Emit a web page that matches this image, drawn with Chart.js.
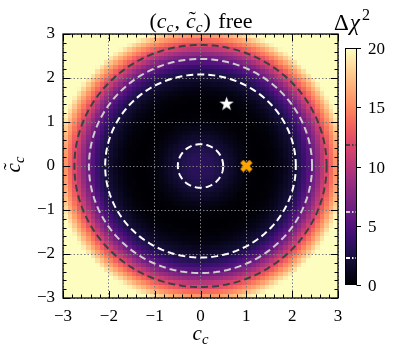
<!DOCTYPE html>
<html>
<head>
<meta charset="utf-8">
<script src="https://cdn.jsdelivr.net/npm/chart.js@4.4.1/dist/chart.umd.min.js"></script>
<style>
  html, body { margin: 0; padding: 0; background: #fff; }
  #wrap { width: 396px; height: 355px; }
</style>
</head>
<body>
<div id="wrap"><canvas id="chi2Map" width="396" height="355"></canvas></div>
<script>
// axis ticks
const xTicks = [-3, -2, -1, 0, 1, 2, 3];
const yTicks = [-3, -2, -1, 0, 1, 2, 3];
const barTicks = [0, 5, 10, 15, 20];

// delta chi^2 as a function of r = sqrt(c_c^2 + ct_c^2)
const profileR = [0.0, 0.1, 0.2, 0.3, 0.4, 0.5, 0.6, 0.7, 0.8, 0.9,
                  1.0, 1.1, 1.2, 1.3, 1.4, 1.5, 1.6, 1.7, 1.8, 1.9,
                  2.0, 2.1, 2.2, 2.3, 2.4, 2.5, 2.6, 2.7, 2.8, 2.9,
                  3.0, 3.1, 3.2, 3.3, 3.4, 3.5, 3.6, 3.7, 3.8, 3.9,
                  4.0, 4.1, 4.2, 4.3];
const profileChi2 = [3.30, 3.26, 3.14, 2.94, 2.66, 2.28, 1.90, 1.48, 1.07, 0.70,
                     0.40, 0.18, 0.05, 0.00, 0.02, 0.10, 0.26, 0.52, 0.90, 1.38,
                     1.90, 2.40, 3.35, 4.45, 5.70, 7.10, 8.90, 10.90, 12.70, 14.60,
                     16.50, 18.40, 20.20, 22.00, 23.90, 25.80, 27.70, 29.60, 31.50, 33.40,
                     35.30, 37.20, 39.10, 41.00];

// contour levels (1, 2, 3 sigma for 2 parameters)
const levels = [2.30, 6.18, 11.83];
const levelColors = ["#ffffff", "#cdcdcd", "#3f3f3f"];

// markers
const bestFit = [{ x: 0.57, y: 1.43 }];
const smPoint = [{ x: 1.0, y: 0.0 }];

const cellStep = 0.1;
const zMax = 20;

const serif = "'Liberation Serif', 'DejaVu Serif', serif";

// magma colormap stops
const magma = ["#000004", "#07061c", "#140e36", "#251255", "#3b0f70", "#51127c",
  "#641a80", "#782281", "#8c2981", "#a1307e", "#b73779", "#cc4071", "#de4968",
  "#ed5a5f", "#f7705c", "#fc8961", "#fe9f6d", "#feb77e", "#fecf92", "#fde7a9", "#fcfdbf"];
const magmaRGB = magma.map(h => [1, 3, 5].map(i => parseInt(h.substr(i, 2), 16)));

function cmap(v) {
  let t = Math.max(0, Math.min(1, v / zMax)) * (magmaRGB.length - 1);
  const i = Math.min(Math.floor(t), magmaRGB.length - 2);
  const f = t - i;
  const a = magmaRGB[i], b = magmaRGB[i + 1];
  return "rgb(" + a.map((c, k) => Math.round(c + (b[k] - c) * f)).join(",") + ")";
}

function chi2At(r) {
  for (let i = 1; i < profileR.length; i++) {
    if (r <= profileR[i]) {
      const f = (r - profileR[i - 1]) / (profileR[i] - profileR[i - 1]);
      return profileChi2[i - 1] + f * (profileChi2[i] - profileChi2[i - 1]);
    }
  }
  return profileChi2[profileChi2.length - 1];
}

function crossings(level) {
  const out = [];
  for (let i = 1; i < profileR.length; i++) {
    const a = profileChi2[i - 1], b = profileChi2[i];
    if ((a - level) * (b - level) < 0) {
      out.push(profileR[i - 1] + (level - a) / (b - a) * (profileR[i] - profileR[i - 1]));
    }
  }
  return out;
}

function ring(r) {
  const pts = [];
  for (let k = 0; k <= 180; k++) {
    const a = k / 180 * 2 * Math.PI;
    pts.push({ x: r * Math.cos(a), y: r * Math.sin(a) });
  }
  return pts;
}

function starImage(size, color) {
  const c = document.createElement("canvas");
  c.width = c.height = size;
  const g = c.getContext("2d");
  const R = size / 2, r = R * 0.4;
  g.beginPath();
  for (let i = 0; i < 10; i++) {
    const a = -Math.PI / 2 + i * Math.PI / 5;
    const rad = i % 2 ? r : R;
    g.lineTo(R + rad * Math.cos(a), R + rad * Math.sin(a) + size * 0.06);
  }
  g.closePath();
  g.fillStyle = color;
  g.fill();
  return c;
}

function xImage(size, color) {
  const c = document.createElement("canvas");
  c.width = c.height = size;
  const g = c.getContext("2d");
  const L = size * 0.5, w = size * 0.17;
  g.translate(size / 2, size / 2);
  g.rotate(Math.PI / 4);
  g.fillStyle = color;
  g.fillRect(-L, -w, 2 * L, 2 * w);
  g.fillRect(-w, -L, 2 * w, 2 * L);
  return c;
}

// text with italics / sub / superscripts
function fontFor(p, size) {
  const s = (p.sub || p.sup) ? size * 0.7 : size;
  return (p.it ? "italic " : "") + s + "px " + serif;
}
function drawMath(ctx, parts, x, y, size, align) {
  ctx.save();
  ctx.textBaseline = "alphabetic";
  ctx.textAlign = "left";
  let total = 0;
  const widths = parts.map(p => {
    ctx.font = fontFor(p, size);
    const w = ctx.measureText(p.t).width + (p.gap || 0);
    total += w;
    return w;
  });
  let cx = align === "center" ? x - total / 2 : x;
  parts.forEach((p, i) => {
    ctx.font = fontFor(p, size);
    const dy = p.sub ? size * 0.2 : p.sup ? -size * 0.42 : 0;
    ctx.fillText(p.t, cx + (p.pre || 0), y + dy);
    if (p.tilde) {
      ctx.font = size + "px " + serif;
      ctx.textAlign = "center";
      ctx.fillText("\u02DC", cx + widths[i] / 2 + size * 0.06, y - size * 0.08);
      ctx.textAlign = "left";
    }
    cx += widths[i];
  });
  ctx.restore();
}

const cellCentres = [];
for (let i = 0; i < Math.round(6 / cellStep); i++) cellCentres.push(-3 + cellStep * (i + 0.5));

const heatmapPlugin = {
  id: "heatmap",
  beforeDraw(chart) {
    const { ctx, chartArea } = chart;
    const xs = chart.scales.x, ys = chart.scales.y;
    const h = cellStep / 2;
    const xEdges = cellCentres.map(c => Math.round(xs.getPixelForValue(c - h)));
    xEdges.push(Math.round(xs.getPixelForValue(cellCentres[cellCentres.length - 1] + h)));
    const yEdges = cellCentres.map(c => Math.round(ys.getPixelForValue(c - h)));
    yEdges.push(Math.round(ys.getPixelForValue(cellCentres[cellCentres.length - 1] + h)));
    ctx.save();
    ctx.beginPath();
    ctx.rect(chartArea.left, chartArea.top, chartArea.right - chartArea.left, chartArea.bottom - chartArea.top);
    ctx.clip();
    cellCentres.forEach((cx, i) => {
      cellCentres.forEach((cy, j) => {
        ctx.fillStyle = cmap(chi2At(Math.hypot(cx, cy)));
        ctx.fillRect(xEdges[i], yEdges[j + 1], xEdges[i + 1] - xEdges[i], yEdges[j] - yEdges[j + 1]);
      });
    });
    ctx.restore();
  }
};

const framePlugin = {
  id: "frame",
  afterDraw(chart) {
    const { ctx, chartArea } = chart;
    const { left, right, top, bottom } = chartArea;
    const xs = chart.scales.x, ys = chart.scales.y;
    ctx.save();
    ctx.strokeStyle = "#000";
    ctx.lineWidth = 1;
    ctx.beginPath();
    for (let k = -15; k <= 15; k++) {
      const v = k / 5;
      const len = k % 5 === 0 ? 7 : 3.5;
      const px = Math.round(xs.getPixelForValue(v)) + 0.5;
      ctx.moveTo(px, bottom); ctx.lineTo(px, bottom - len);
      ctx.moveTo(px, top); ctx.lineTo(px, top + len);
      const py = Math.round(ys.getPixelForValue(v)) + 0.5;
      ctx.moveTo(left, py); ctx.lineTo(left + len, py);
      ctx.moveTo(right, py); ctx.lineTo(right - len, py);
    }
    ctx.stroke();
    ctx.lineWidth = 1.25;
    ctx.strokeRect(left, top, right - left, bottom - top);

    // colour bar
    const cbL = 345, cbR = 357, cbT = 48, cbB = 285;
    const cy = v => cbB - v / zMax * (cbB - cbT);
    for (let py = cbT; py < cbB; py++) {
      ctx.fillStyle = cmap((cbB - py - 0.5) / (cbB - cbT) * zMax);
      ctx.fillRect(cbL, py, cbR - cbL, 1);
    }
    levels.forEach((lv, i) => {
      ctx.strokeStyle = levelColors[i];
      ctx.lineWidth = 2;
      ctx.setLineDash([5, 2, 1.5, 2]);
      ctx.beginPath();
      ctx.moveTo(cbL, Math.round(cy(lv)));
      ctx.lineTo(cbR, Math.round(cy(lv)));
      ctx.stroke();
    });
    ctx.setLineDash([]);
    ctx.strokeStyle = "#000";
    ctx.lineWidth = 1;
    ctx.strokeRect(cbL + 0.5, cbT + 0.5, cbR - cbL - 1, cbB - cbT - 1);
    ctx.fillStyle = "#000";
    ctx.font = "17px " + serif;
    ctx.textAlign = "left";
    ctx.textBaseline = "middle";
    barTicks.forEach(v => {
      const py = Math.round(cy(v)) + 0.5;
      ctx.beginPath();
      ctx.moveTo(cbR - 0.5, py); ctx.lineTo(cbR + 4, py);
      ctx.stroke();
      ctx.fillText(String(v), 368, py + 1);
    });
    ctx.restore();

    // labels
    const cc = [{ t: "c", it: true }, { t: "c", it: true, sub: true, gap: 1 }];
    const ct = [{ t: "c", it: true, tilde: true }, { t: "c", it: true, sub: true, gap: 1 }];
    drawMath(ctx, [{ t: "(" }, ...cc, { t: ",", gap: 6 }, ...ct, { t: ")", gap: 2 }, { t: " free" }], 201, 28, 22, "center");
    drawMath(ctx, cc, 201, 340, 21, "center");
    ctx.save();
    ctx.translate(20, 164);
    ctx.rotate(-Math.PI / 2);
    drawMath(ctx, ct, 0, 0, 21, "center");
    ctx.restore();
    drawMath(ctx, [{ t: "\u0394", gap: 1 }, { t: "\u03C7", it: true, gap: 2 }, { t: "2", sup: true }], 352, 30, 23, "center");
  }
};

const contourSets = [];
levels.forEach((lv, i) => {
  crossings(lv).forEach(r => {
    contourSets.push({
      data: ring(r),
      showLine: true,
      borderColor: levelColors[i],
      borderWidth: 2,
      borderDash: [7, 4],
      pointRadius: 0,
      order: 1
    });
  });
});

const ctx = document.getElementById("chi2Map").getContext("2d");
const chart = new Chart(ctx, {
  type: "scatter",
  data: {
    datasets: [
      ...contourSets,
      { data: bestFit, pointStyle: starImage(15, "#ffffff"), pointRadius: 7, order: 0 },
      { data: smPoint, pointStyle: xImage(13, "#ffa500"), pointRadius: 7, order: 0 }
    ]
  },
  options: {
    responsive: false,
    animation: false,
    devicePixelRatio: 1,
    layout: { padding: { top: 34, right: 58, left: 0, bottom: 0 } },
    scales: {
      x: {
        min: xTicks[0], max: xTicks[xTicks.length - 1],
        afterBuildTicks: s => { s.ticks = xTicks.map(v => ({ value: v })); },
        afterFit: s => { s.height = 57; },
        grid: { color: "#7f7f7f", lineWidth: 1, drawTicks: false },
        border: { display: false, dash: [1.5, 2] },
        ticks: {
          padding: 8, color: "#000",
          font: { family: serif, size: 17 },
          callback: v => String(v).replace("-", "\u2212")
        }
      },
      y: {
        min: yTicks[0], max: yTicks[yTicks.length - 1],
        afterBuildTicks: s => { s.ticks = yTicks.map(v => ({ value: v })); },
        afterFit: s => { s.width = 63; },
        grid: { color: "#7f7f7f", lineWidth: 1, drawTicks: false },
        border: { display: false, dash: [1.5, 2] },
        ticks: {
          padding: 8, color: "#000",
          font: { family: serif, size: 17 },
          callback: v => String(v).replace("-", "\u2212")
        }
      }
    },
    plugins: {
      legend: { display: false },
      title: { display: false },
      tooltip: { enabled: false }
    }
  },
  plugins: [heatmapPlugin, framePlugin]
});
</script>
</body>
</html>
